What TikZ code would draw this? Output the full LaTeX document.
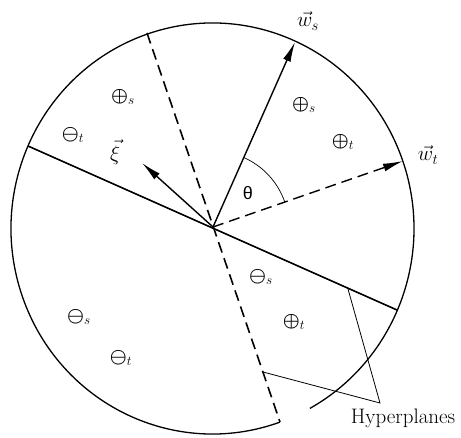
\RequirePackage{fix-cm}
\documentclass[tikz,border=0pt]{standalone}
\usepackage{amsmath}
\usepackage{fontspec}
\newfontfamily\thetafont{Liberation Sans}
\usetikzlibrary{arrows.meta}
\newcommand{\bop}{\boldsymbol{\oplus}}
\newcommand{\bom}{\boldsymbol{\ominus}}
\begin{document}
\begin{tikzpicture}[x=1pt,y=-1pt,
  hplane/.style={line width=1.6pt},
  dashplane/.style={line width=1.6pt,dash pattern=on 11pt off 6pt},
  vecarrow/.style={line width=1.4pt,-{Latex[length=20pt,width=8pt]}},
  thin line/.style={line width=0.8pt},
  lbl/.style={inner sep=0pt,font=\fontsize{19}{23}\selectfont},
  veclbl/.style={inner sep=0pt,font=\fontsize{21}{25}\selectfont}]
\useasboundingbox (0,0) rectangle (461,438);
% circle with a small gap at the lower right
\draw[line width=1.3pt] (212.5,228.5) ++(70.5:201.5 and 205.5)
  arc[start angle=70.5,end angle=421.1,x radius=201.5,y radius=205.5];
\coordinate (C) at (213,227);
\coordinate (A1) at (28,146);
\coordinate (A2) at (397,310);
\coordinate (B1) at (147,33);
\coordinate (B2) at (280,422);
\coordinate (WS) at (295,42);
\coordinate (WT) at (403,161);
\coordinate (XI) at (142,163);
\coordinate (P) at (380,403);
\coordinate (PA) at (348,289);
\coordinate (PB) at (263,372);
% hyperplanes
\draw[hplane] (A1) -- (A2);
\draw[dashplane] (B1) -- (B2);
% vectors
\draw[vecarrow] (C) -- (WS);
\draw[vecarrow,dash pattern=on 11pt off 6pt] (C) -- (WT);
\draw[vecarrow] (C) -- (XI);
% angle arc
\draw[line width=0.7pt] (C) ++(-19.2:76) arc[start angle=-19.2,end angle=-66,radius=76];
% pointer lines
\draw[thin line] (PA) -- (P) -- (PB);
% labels
\node[veclbl] (lws) at (308,21) {$\vec{w}_s$};
\node[veclbl] (lwt) at (428,155) {$\vec{w}_t$};
\node[veclbl] (lxi) at (115,152) {$\vec{\xi}$};
\node[lbl] (th) at (248,193) {\thetafont\fontsize{18}{21}\selectfont θ};
\node[lbl] (r1) at (123,97) {$\bop_s$};
\node[lbl] (r2) at (73,135) {$\bom_t$};
\node[lbl] (r3) at (304,105) {$\bop_s$};
\node[lbl] (r4) at (343,142) {$\bop_t$};
\node[lbl] (r5) at (261,277) {$\bom_s$};
\node[lbl] (r6) at (294,322) {$\bop_t$};
\node[lbl] (r7) at (79,317) {$\bom_s$};
\node[lbl] (r8) at (121,358) {$\bom_t$};
\node[inner sep=0pt,font=\fontsize{21}{25}\selectfont] (hp) at (403,418) {Hyperplanes};
\end{tikzpicture}
\end{document}
